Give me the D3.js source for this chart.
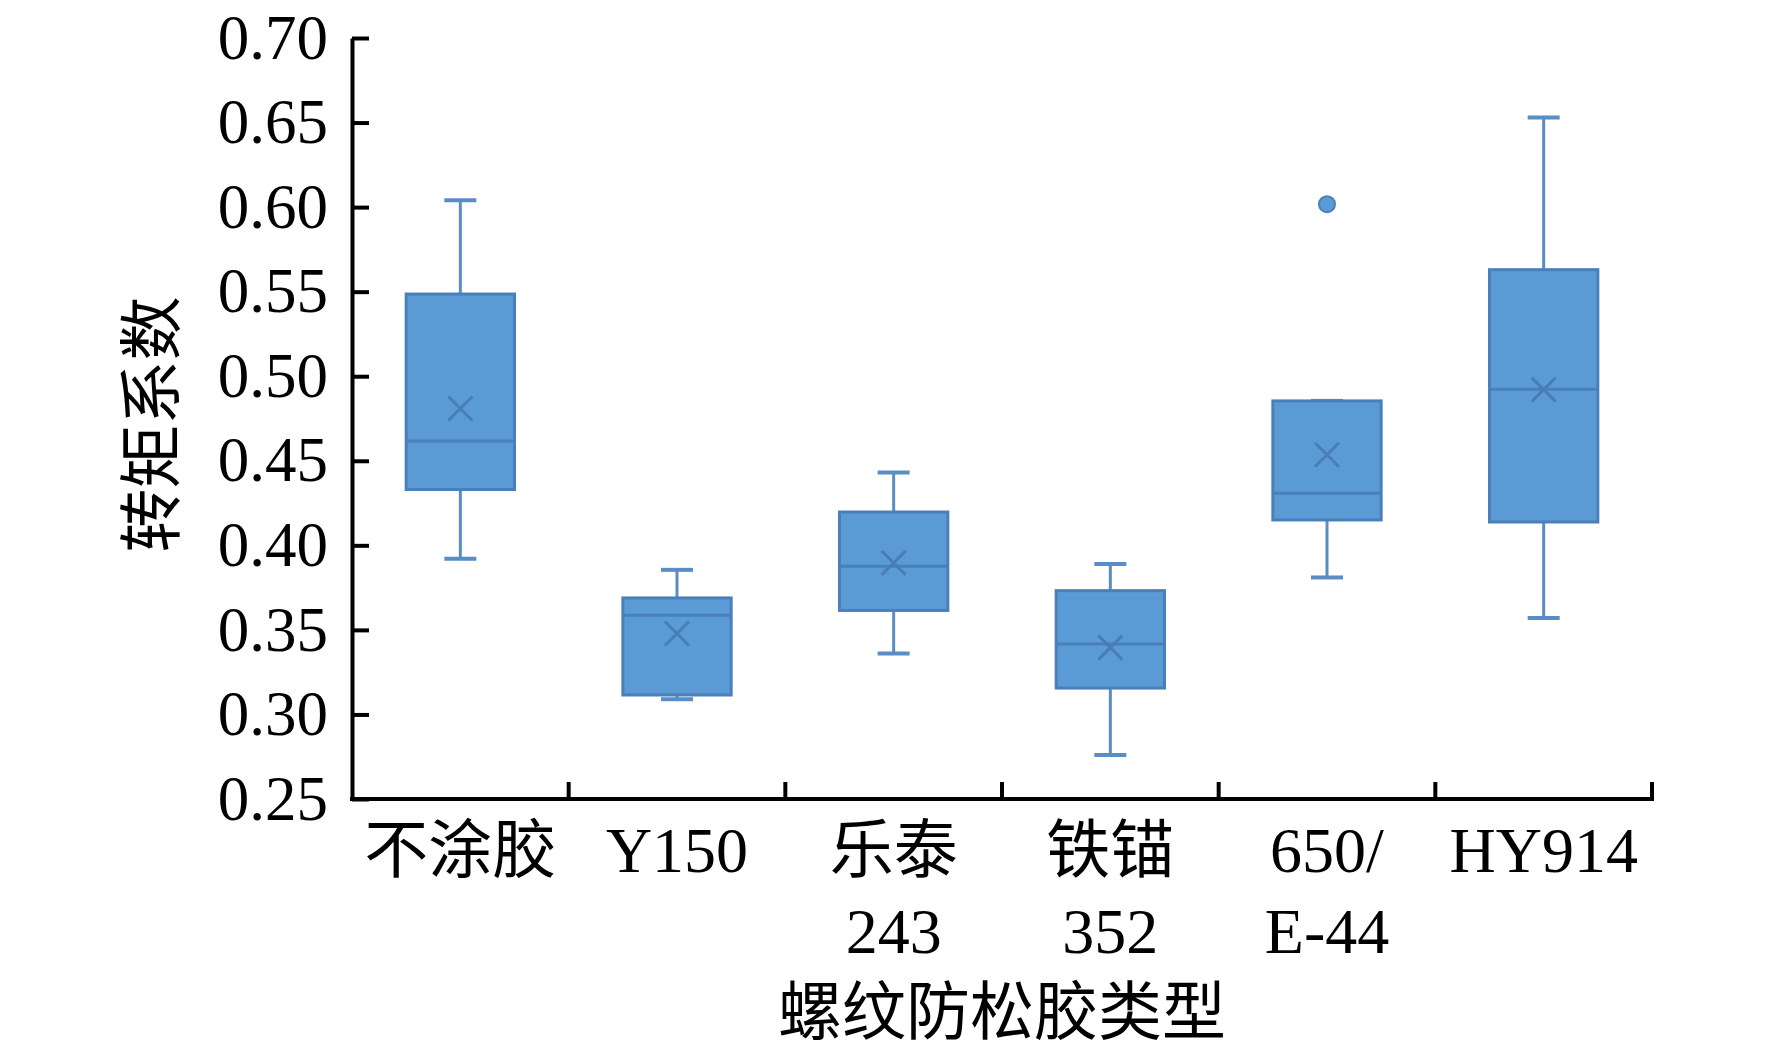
<!DOCTYPE html>
<html>
<head>
<meta charset="utf-8">
<script src="https://cdn.jsdelivr.net/npm/d3@7"></script>
<style>
  body { margin: 0; background: #fff; }
  text { font-family: "Liberation Serif", "Noto Sans CJK SC", serif; fill: #000; }
</style>
</head>
<body>
<div id="chart"></div>
<script>
// categories and box statistics
const categories = ["不涂胶", "Y150", "乐泰243", "铁锚352", "650/E-44", "HY914"];
const labelLines = [["不涂胶"], ["Y150"], ["乐泰", "243"], ["铁锚", "352"], ["650/", "E-44"], ["HY914"]];
const whiskerLow = [0.392, 0.309, 0.336, 0.276, 0.381, 0.357];
const q1Values = [0.433, 0.3115, 0.3615, 0.3156, 0.415, 0.4138];
const medianValues = [0.4617, 0.3586, 0.3877, 0.3416, 0.4308, 0.4923];
const q3Values = [0.5486, 0.3689, 0.4197, 0.3732, 0.4854, 0.563];
const whiskerHigh = [0.604, 0.3855, 0.443, 0.3889, 0.4854, 0.653];
const meanValues = [0.4809, 0.3479, 0.3896, 0.3395, 0.4536, 0.4921];
const outliers = [{ cat: "650/E-44", value: 0.6017 }];
const yTicks = [0.25, 0.30, 0.35, 0.40, 0.45, 0.50, 0.55, 0.60, 0.65, 0.70];

const width = 1772, height = 1057;
const margin = { top: 38, right: 120, bottom: 258, left: 352 };

const boxes = categories.map((c, i) => ({
    cat: c,
    lo: whiskerLow[i], q1: q1Values[i], med: medianValues[i],
    q3: q3Values[i], hi: whiskerHigh[i], mean: meanValues[i]
}));

const svg = d3.select("#chart").append("svg")
    .attr("width", width)
    .attr("height", height);

const x = d3.scaleBand()
    .domain(categories)
    .range([margin.left, width - margin.right])
    .padding(0);

const y = d3.scaleLinear()
    .domain([0.25, 0.70])
    .range([height - margin.bottom, margin.top]);

const boxW = x.bandwidth() * 0.5;
const capW = 32;
const fillCol = "#5b9bd5", edgeCol = "#4a7fba", whiskCol = "#5a8dc5";

// boxes
const g = svg.append("g");
const bx = g.selectAll(".box").data(boxes).enter().append("g")
    .attr("class", "box")
    .attr("transform", d => `translate(${x(d.cat) + x.bandwidth() / 2},0)`);

// whiskers
bx.append("line")
    .attr("x1", 0).attr("x2", 0)
    .attr("y1", d => y(d.hi)).attr("y2", d => y(d.q3))
    .attr("stroke", whiskCol).attr("stroke-width", 3);
bx.append("line")
    .attr("x1", 0).attr("x2", 0)
    .attr("y1", d => y(d.q1)).attr("y2", d => y(d.lo))
    .attr("stroke", whiskCol).attr("stroke-width", 3);
bx.append("line")
    .attr("x1", -capW / 2).attr("x2", capW / 2)
    .attr("y1", d => y(d.hi)).attr("y2", d => y(d.hi))
    .attr("stroke", whiskCol).attr("stroke-width", 4);
bx.append("line")
    .attr("x1", -capW / 2).attr("x2", capW / 2)
    .attr("y1", d => y(d.lo)).attr("y2", d => y(d.lo))
    .attr("stroke", whiskCol).attr("stroke-width", 4);

bx.append("rect")
    .attr("x", -boxW / 2)
    .attr("width", boxW)
    .attr("y", d => y(d.q3))
    .attr("height", d => y(d.q1) - y(d.q3))
    .attr("fill", fillCol)
    .attr("stroke", edgeCol)
    .attr("stroke-width", 3);

// median
bx.append("line")
    .attr("x1", -boxW / 2).attr("x2", boxW / 2)
    .attr("y1", d => y(d.med)).attr("y2", d => y(d.med))
    .attr("stroke", edgeCol).attr("stroke-width", 3);

// mean marker (x)
const m = 12;
bx.append("path")
    .attr("d", d => `M${-m},${y(d.mean) - m}L${m},${y(d.mean) + m}M${-m},${y(d.mean) + m}L${m},${y(d.mean) - m}`)
    .attr("stroke", "#4a7db5").attr("stroke-width", 3).attr("fill", "none");

// outliers
g.selectAll(".outlier").data(outliers).enter().append("circle")
    .attr("class", "outlier")
    .attr("cx", d => x(d.cat) + x.bandwidth() / 2)
    .attr("cy", d => y(d.value))
    .attr("r", 8)
    .attr("fill", fillCol)
    .attr("stroke", edgeCol)
    .attr("stroke-width", 2);

// y axis
const yAxis = svg.append("g")
    .attr("transform", `translate(${margin.left},0)`)
    .call(d3.axisLeft(y).tickValues(yTicks).tickFormat(d3.format(".2f")).tickSize(-17).tickSizeOuter(0).tickPadding(24));
yAxis.select(".domain").attr("stroke", "#000").attr("stroke-width", 4);
yAxis.selectAll(".tick line").attr("stroke", "#000").attr("stroke-width", 4);
yAxis.selectAll(".tick text")
    .attr("x", -24)
    .style("font-size", "63px")
    .style("font-family", "'Liberation Serif', serif");

// x axis: ticks at band boundaries
const xBase = height - margin.bottom;
svg.append("line")
    .attr("x1", margin.left - 2).attr("x2", width - margin.right + 2)
    .attr("y1", xBase).attr("y2", xBase)
    .attr("stroke", "#000").attr("stroke-width", 4);
const bounds = categories.slice(1).map(c => x(c)).concat([x.range()[1]]);
svg.selectAll(".xtick").data(bounds).enter().append("line")
    .attr("class", "xtick")
    .attr("x1", d => d).attr("x2", d => d)
    .attr("y1", xBase).attr("y2", xBase - 17)
    .attr("stroke", "#000").attr("stroke-width", 4);

const xl = svg.selectAll(".xlabel").data(categories).enter().append("text")
    .attr("class", "xlabel")
    .attr("text-anchor", "middle")
    .style("font-size", "64px");
xl.selectAll("tspan").data((d, i) => labelLines[i].map(t => ({ t, cx: x(d) + x.bandwidth() / 2 })))
    .enter().append("tspan")
    .attr("x", d => d.cx)
    .attr("y", (d, j) => 872 + j * 81)
    .text(d => d.t);

// axis titles
svg.append("text")
    .attr("text-anchor", "middle")
    .attr("x", (margin.left + width - margin.right) / 2)
    .attr("y", 1034)
    .style("font-size", "64px")
    .text("螺纹防松胶类型");

svg.append("text")
    .attr("text-anchor", "middle")
    .attr("transform", `translate(174,${(y(0.25) + y(0.70)) / 2 + 6}) rotate(-90)`)
    .style("font-size", "64px")
    .text("转矩系数");
</script>
</body>
</html>
